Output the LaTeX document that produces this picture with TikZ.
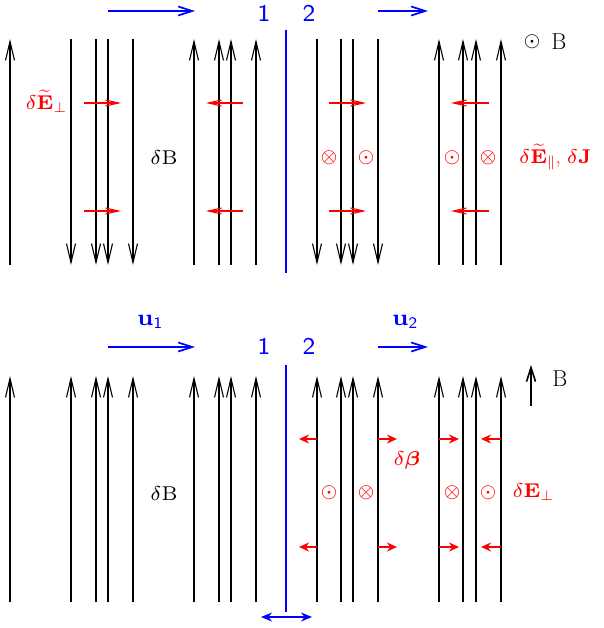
\documentclass[tikz,border=0pt]{standalone}
\usepackage{amsmath}
\usetikzlibrary{arrows.meta}
% wide small-design math faces at large sizes
\DeclareFontShape{OT1}{cmr}{m}{n}{<->cmr7}{}
\DeclareFontShape{OT1}{cmr}{bx}{n}{<->cmbx7}{}
\DeclareFontShape{OML}{cmm}{m}{it}{<->cmmi7}{}
\DeclareFontShape{OML}{cmm}{b}{it}{<->cmmib7}{}
\DeclareFontShape{OMS}{cmsy}{m}{n}{<->cmsy7}{}
\DeclareFontShape{OMX}{cmex}{m}{n}{<->cmex10}{}
\DeclareFontFamily{OT1}{cmss}{}
\DeclareFontShape{OT1}{cmss}{m}{n}{<->cmss8}{}

\begin{document}
\begin{tikzpicture}[
    x=1pt, y=-1pt,
    field/.style={line width=1.1pt, -{Straight Barb[length=19pt,width=9pt]}},
    flow/.style={blue, line width=1.7pt, -{Straight Barb[length=14pt,width=9pt]}},
    efield/.style={red, line width=1.1pt, -{Straight Barb[length=13pt,width=6pt]}},
    shove/.style={red, line width=1.6pt, -{Stealth[length=10pt,width=9pt]}},
    front/.style={blue, line width=2.6pt},
    big/.style={font=\fontsize{23}{26}\selectfont},
    lab/.style={font=\fontsize{20}{24}\selectfont},
    sym/.style={font=\fontsize{19}{22}\selectfont},
    num/.style={blue, font=\fontsize{24}{28}\selectfont}
]
\useasboundingbox (0,0) rectangle (603,628);

% Upper panel: field lines turned by the wave.
\foreach \x in {10,194,219,231,256,439,463,476,501}{
    \draw[field] (\x,265) -- (\x,39);
}
\foreach \x in {71,96,108,133,317,341,353,378}{
    \draw[field] (\x,39) -- (\x,265);
}
\draw[front] (286,30) -- (286,273);
\draw[flow] (108,11) -- (195,11);
\draw[flow] (378,11) -- (428,11);
\node[num] (up1) at (264,14) {$\mathsf{1}$};
\node[num] (up2) at (309,14) {$\mathsf{2}$};

% Transverse electric field.
\foreach \y in {103,211}{
    \draw[efield] (84,\y) -- (121,\y);
    \draw[efield] (243,\y) -- (206,\y);
    \draw[efield] (329,\y) -- (366,\y);
    \draw[efield] (489,\y) -- (451,\y);
}
\node[lab, red] (eperp) at (46,101) {$\delta\widetilde{\mathbf{E}}_{\perp}$};
\node[lab] (dbup) at (164,158) {$\delta\mathrm{B}$};
\node[sym, red] (o1) at (329,158) {$\otimes$};
\node[sym, red] (o2) at (366,158) {$\odot$};
\node[sym, red] (o3) at (452,158) {$\odot$};
\node[sym, red] (o4) at (488,158) {$\otimes$};
\node[lab, red, anchor=west, inner sep=0pt] (epar) at (519,157) {$\delta\widetilde{\mathbf{E}}_{\parallel}$, $\delta\mathbf{J}$};
\node[sym] (bdot) at (532,42) {$\odot$};
\node[big] (bup) at (559,42) {B};

% Lower panel: field lines along B.
\foreach \x in {10,71,96,108,133,194,219,231,256,317,341,353,378,439,463,476,501}{
    \draw[field] (\x,602) -- (\x,376);
}
\draw[front] (286,365) -- (286,612);
\draw[blue, line width=1.7pt, {Stealth[length=11pt,width=9pt]}-{Stealth[length=11pt,width=9pt]}] (261,617) -- (312,617);
\draw[flow] (108,347) -- (195,347);
\draw[flow] (378,347) -- (428,347);
\node[num] (lo1) at (264,347) {$\mathsf{1}$};
\node[num] (lo2) at (309,347) {$\mathsf{2}$};
\node[big, blue] (u1) at (150,322) {$\mathbf{u}_{\mathsf{1}}$};
\node[big, blue] (u2) at (405,322) {$\mathbf{u}_{\mathsf{2}}$};
\draw[line width=1.6pt, -{Straight Barb[length=14pt,width=9pt]}] (531,406) -- (531,365);
\node[big] (blo) at (560,379) {B};

% Displacement of the lines.
\foreach \y in {439,547}{
    \draw[shove] (317,\y) -- (299,\y);
    \draw[shove] (378,\y) -- (397,\y);
    \draw[shove] (439,\y) -- (459,\y);
    \draw[shove] (501,\y) -- (481,\y);
}
\node[lab, red] (beta) at (407,460) {$\delta\boldsymbol{\beta}$};
\node[lab] (dblo) at (164,494) {$\delta\mathrm{B}$};
\node[sym, red] (p1) at (329,493) {$\odot$};
\node[sym, red] (p2) at (366,493) {$\otimes$};
\node[sym, red] (p3) at (452,493) {$\otimes$};
\node[sym, red] (p4) at (488,493) {$\odot$};
\node[lab, red] (elo) at (533,492) {$\delta\mathbf{E}_{\perp}$};
\end{tikzpicture}
\end{document}
